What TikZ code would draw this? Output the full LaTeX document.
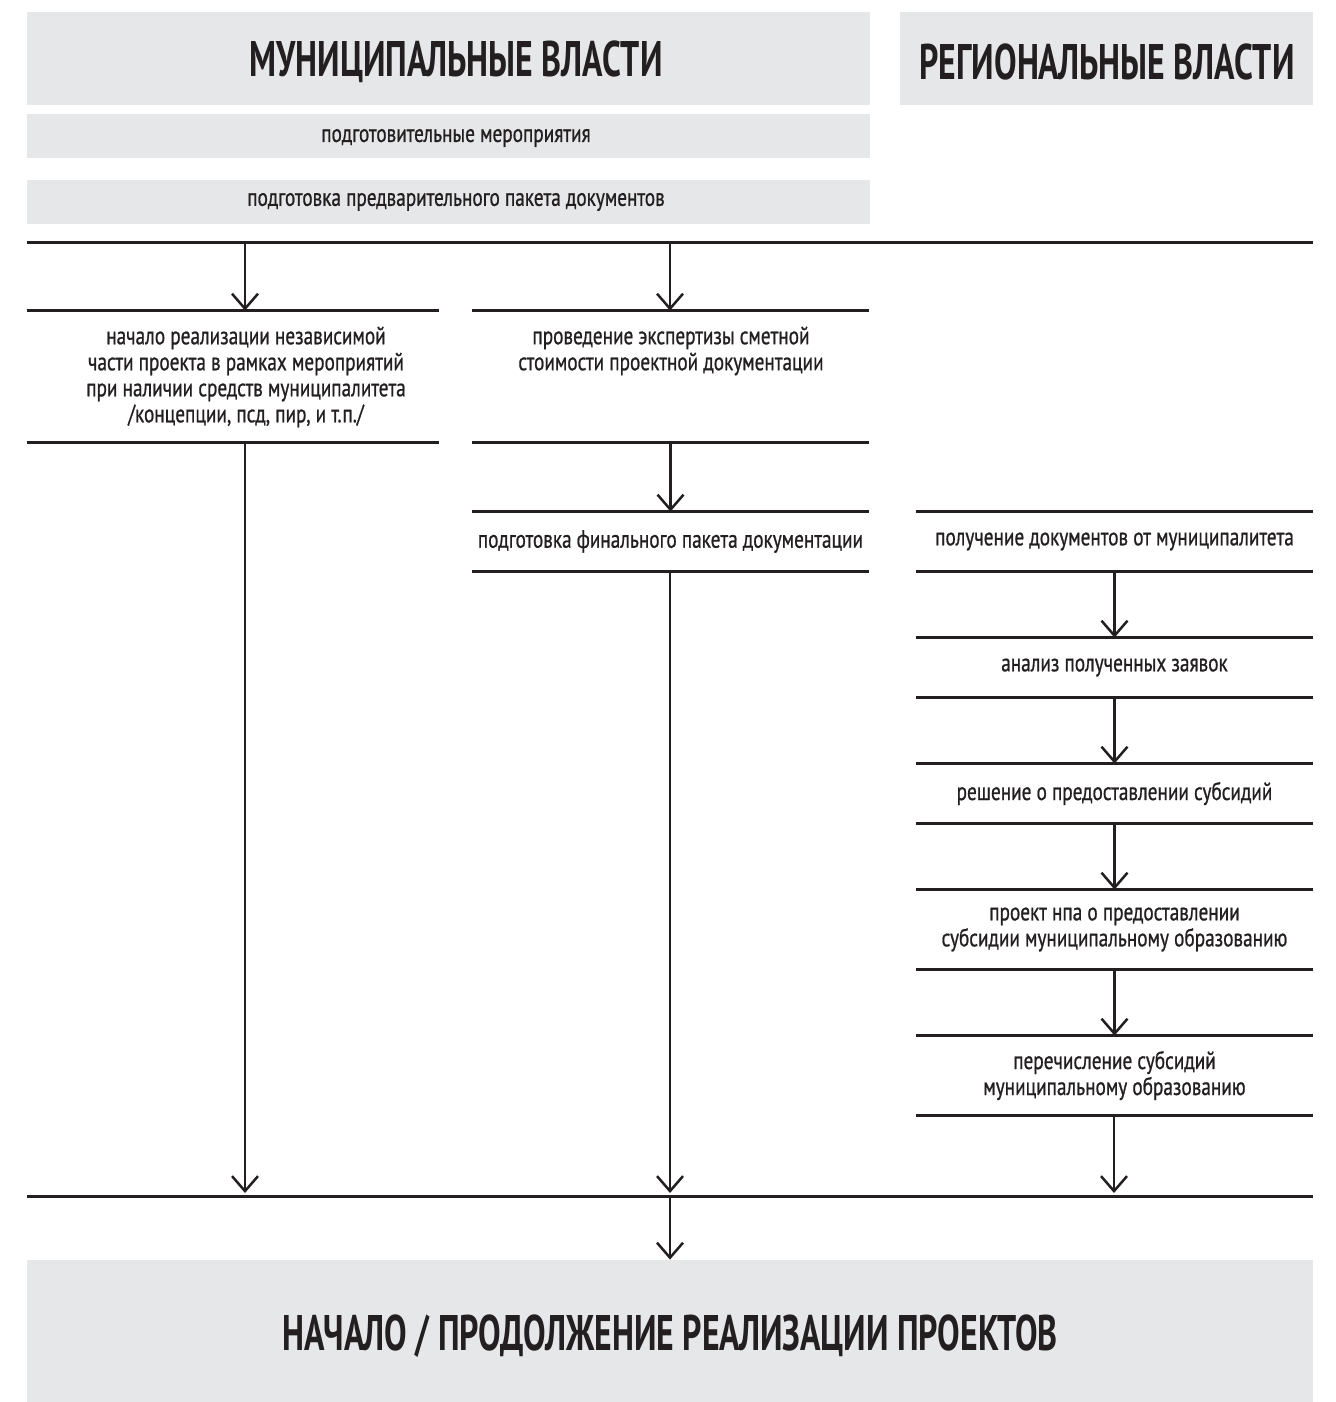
\documentclass[tikz,border=0pt]{standalone}
\usepackage{fontspec}
\setmainfont{PT Sans}[FakeStretch=0.77, FakeBold=0.8]
\newfontfamily\titlefont{PT Sans Bold}[FakeStretch=0.675]
\usetikzlibrary{arrows.meta}
\definecolor{ink}{HTML}{231F20}
\definecolor{panel}{HTML}{E6E7E8}
\tikzset{
  x=0.5pt, y=-0.5pt,
  panelbox/.style={fill=panel, draw=none, inner sep=0pt, text=ink},
  titletext/.style={font=\titlefont\fontsize{25}{28}\selectfont},
  smalltext/.style={font=\fontsize{12.5}{13}\selectfont, text=ink, align=center, inner sep=0pt},
  band/.style={draw=none, inner sep=0pt, minimum width=199pt},
  rule/.style={draw=ink, line width=1.5pt},
  flow/.style={draw=ink, line width=1.25pt, -{Straight Barb[length=7.5pt, width=13pt, line width=1.25pt]}},
}
\begin{document}
\begin{tikzpicture}
\useasboundingbox (0,0) rectangle (1335,1402);
% header boxes
\node[panelbox, minimum width=421.5pt, minimum height=46.5pt] (mun) at (448.5,58.5) {};
\node[titletext, text=ink] (munt) at (456,62) {МУНИЦИПАЛЬНЫЕ ВЛАСТИ};
\node[panelbox, minimum width=206.5pt, minimum height=46.5pt] (reg) at (1106.5,58.5) {};
\node[titletext, text=ink] (regt) at (1107,62) {РЕГИОНАЛЬНЫЕ ВЛАСТИ};
\node[panelbox, minimum width=421.5pt, minimum height=22pt] (prep1) at (448.5,136) {};
\node[smalltext] (prep1t) at (456,138) {подготовительные мероприятия};
\node[panelbox, minimum width=421.5pt, minimum height=22pt] (prep2) at (448.5,202) {};
\node[smalltext] (prep2t) at (456,202) {подготовка предварительного пакета документов};
% top bar
\coordinate (b1l) at (27,242);
\coordinate (b1r) at (1313,242);
\draw[rule] (b1l) -- (b1r);
% steps
\node[band, minimum width=206pt, minimum height=65.5pt] (s1) at (233,376.5) {};
\node[smalltext] (s1t) at (246,377) {начало реализации независимой\\части проекта в рамках мероприятий\\при наличии средств муниципалитета\\/концепции, псд, пир, и т.п./};
\node[band, minimum width=198.5pt, minimum height=65.5pt] (s2) at (670.5,376.5) {};
\node[smalltext] (s2t) at (671,351) {проведение экспертизы сметной\\стоимости проектной документации};
\node[band, minimum width=198.5pt, minimum height=29.5pt, smalltext] (s3) at (670.5,541.5) {подготовка финального пакета документации};
\node[band, minimum width=198.5pt, minimum height=29.5pt, smalltext] (r1) at (1114.5,541.5) {получение документов от муниципалитета};
\node[band, minimum width=198.5pt, minimum height=29.5pt, smalltext] (r2) at (1114.5,667.5) {анализ полученных заявок};
\node[band, minimum width=198.5pt, minimum height=29.5pt, smalltext] (r3) at (1114.5,793.5) {решение о предоставлении субсидий};
\node[band, minimum width=198.5pt, minimum height=39.5pt, smalltext] (r4) at (1114.5,929.5) {проект нпа о предоставлении\\субсидии муниципальному образованию};
\node[band, minimum width=198.5pt, minimum height=39.5pt, smalltext] (r5) at (1114.5,1075.5) {перечисление субсидий\\муниципальному образованию};
\foreach \n in {s1,s2,s3,r1,r2,r3,r4,r5}{
  \draw[rule] (\n.north west) -- (\n.north east);
  \draw[rule] (\n.south west) -- (\n.south east);
}
% bottom bar
\coordinate (b2l) at (27,1196);
\coordinate (b2r) at (1313,1196);
\draw[rule] (b2l) -- (b2r);
% final
\node[panelbox, minimum width=643pt, minimum height=71pt] (fin) at (670,1331) {};
\node[titletext, text=ink] (fint) at (670,1336) {НАЧАЛО / ПРОДОЛЖЕНИЕ РЕАЛИЗАЦИИ ПРОЕКТОВ};
% arrow anchor points on bars
\coordinate (a1) at (245,242);
\coordinate (a2) at (670,242);
\coordinate (e1) at (245,1196);
\coordinate (e2) at (670,1196);
\coordinate (e3) at (1114,1196);
\coordinate (a3) at (670,1196);
\draw[flow] (a1) -- (a1 |- s1.north);
\draw[flow] (a2) -- (a2 |- s2.north);
\draw[flow] (s2.south) -- (s3.north);
\draw[flow] (r1.south) -- (r2.north);
\draw[flow] (r2.south) -- (r3.north);
\draw[flow] (r3.south) -- (r4.north);
\draw[flow] (r4.south) -- (r5.north);
\draw[flow] (s1.south -| e1) -- ([yshift=1.5pt]e1);
\draw[flow] (s3.south -| e2) -- ([yshift=1.5pt]e2);
\draw[flow] (r5.south -| e3) -- ([yshift=1.5pt]e3);
\draw[flow] (a3) -- (a3 |- fin.north);
\end{tikzpicture}
\end{document}
